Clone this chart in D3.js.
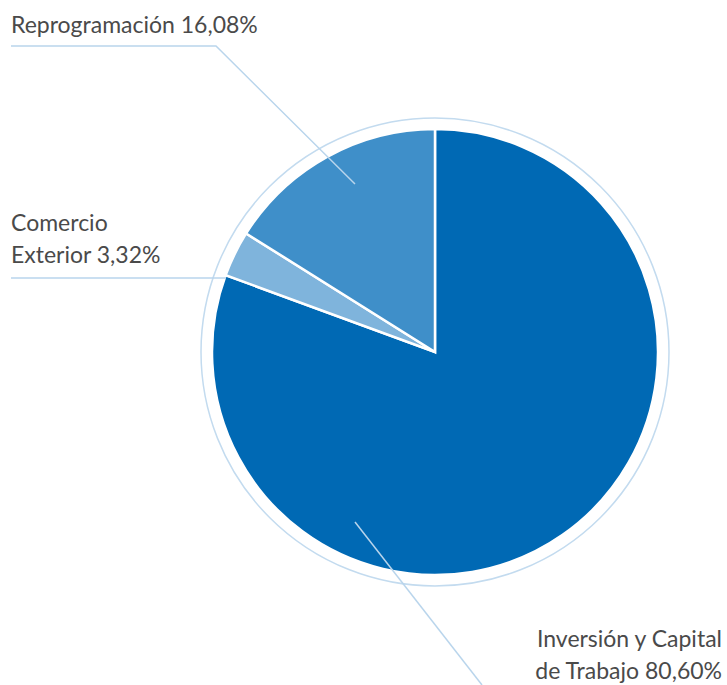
<!DOCTYPE html>
<html>
<head>
<meta charset="utf-8">
<script src="https://cdn.jsdelivr.net/npm/d3@7"></script>
<style>
  body { margin: 0; background: #fff; }
  text { font-family: Lato, "Open Sans", sans-serif; fill: #4a4a4a; }
</style>
</head>
<body>
<div id="chart"></div>
<script>
// data
var categories = ["Inversión y Capital de Trabajo", "Comercio Exterior", "Reprogramación"];
var values = [80.60, 3.32, 16.08];
var colors = ["#0069b4", "#7fb4dc", "#3f8fc9"];

var width = 727, height = 685;
var cx = 435, cy = 352, radius = 223, ringRadius = 234;

var svg = d3.select("#chart")
  .append("svg")
    .attr("width", width)
    .attr("height", height);

var g = svg.append("g")
  .attr("transform", "translate(" + cx + "," + cy + ")");

var pie = d3.pie().sort(null).value(function(d) { return d; });
var arcs = pie(values);
var arc = d3.arc().innerRadius(0).outerRadius(radius);

// thin outer ring
g.append("circle")
  .attr("r", ringRadius)
  .attr("fill", "none")
  .attr("stroke", "#c3dbef")
  .attr("stroke-width", 1.5);

g.selectAll("path")
  .data(arcs)
  .enter().append("path")
    .attr("d", arc)
    .attr("fill", function(d, i) { return colors[i]; })
    .attr("stroke", "#fff")
    .attr("stroke-width", 2.5);

// leader lines (page coordinates)
var fmt = function(v) { return v.toFixed(2).replace(".", ","); };
var lineColor = "#b9d5ec";

var leaders = [
  [[482, 685], [355, 522]],
  [[11, 278], [226, 278]],
  [[11, 46], [216, 46], [355, 184]]
];
svg.selectAll("polyline")
  .data(leaders)
  .enter().append("polyline")
    .attr("points", function(d) { return d.map(function(p) { return p.join(","); }).join(" "); })
    .attr("fill", "none")
    .attr("stroke", lineColor)
    .attr("stroke-width", 1.5);

// labels
var labelLines = [
  ["Inversión y Capital", "de Trabajo " + fmt(values[0]) + "%"],
  ["Comercio", "Exterior " + fmt(values[1]) + "%"],
  [categories[2] + " " + fmt(values[2]) + "%"]
];
var labelPos = [
  {x: 722, y: 647, anchor: "end"},
  {x: 11, y: 231, anchor: "start"},
  {x: 11, y: 33, anchor: "start"}
];

labelLines.forEach(function(lines, i) {
  var p = labelPos[i];
  var t = svg.append("text")
    .attr("x", p.x)
    .attr("y", p.y)
    .attr("text-anchor", p.anchor)
    .style("font-size", "23px");
  lines.forEach(function(s, j) {
    t.append("tspan")
      .attr("x", p.x)
      .attr("dy", j === 0 ? 0 : 32)
      .text(s);
  });
});
</script>
</body>
</html>
